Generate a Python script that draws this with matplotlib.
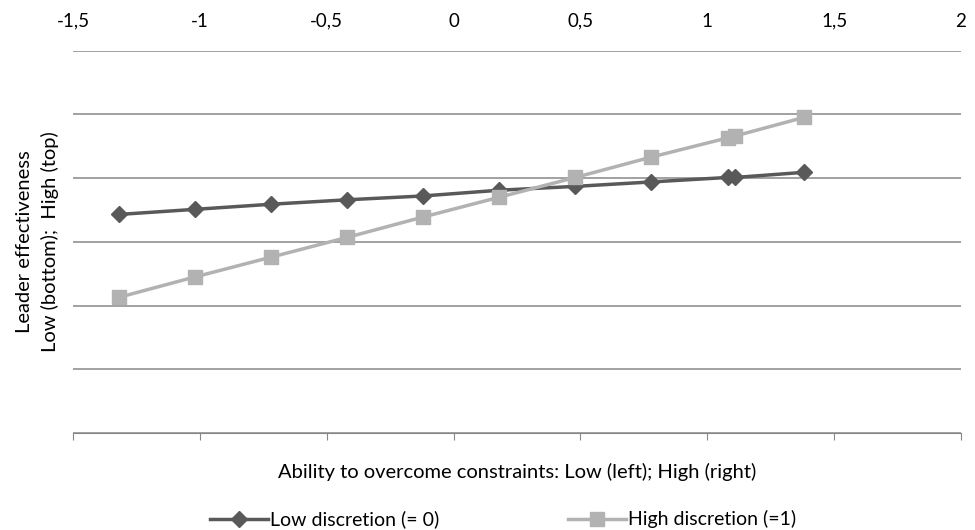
import matplotlib
matplotlib.use('Agg')
import matplotlib.pyplot as plt
from matplotlib.ticker import FuncFormatter

plt.rcParams['font.family'] = ['Lato', 'DejaVu Sans']

# ability to overcome constraints (x) and leader effectiveness (y, arbitrary units)
ability = [-1.32, -1.02, -0.72, -0.42, -0.12, 0.18, 0.48, 0.78, 1.08, 1.11, 1.38]
low_discretion = [3.43, 3.51, 3.59, 3.66, 3.72, 3.81, 3.87, 3.94, 4.01, 4.01, 4.09]
high_discretion = [2.13, 2.45, 2.76, 3.07, 3.39, 3.70, 4.01, 4.33, 4.63, 4.66, 4.95]
x_ticks = [-1.5, -1, -0.5, 0, 0.5, 1, 1.5, 2]
labels = ['Low discretion (= 0)', 'High discretion (=1)']

fig = plt.figure(figsize=(9.75, 5.3), dpi=100)
ax = fig.add_axes([0.0749, 0.1825, 0.9107, 0.7222])

ax.plot(ability, low_discretion, color='#595959', lw=2.5, marker='D',
        markersize=8, label=labels[0], zorder=3)
ax.plot(ability, high_discretion, color='#b2b2b2', lw=2.5, marker='s',
        markersize=9.5, label=labels[1], zorder=3)

ax.set_xlim(-1.5, 2)
ax.set_ylim(0, 6)
ax.set_xticks(x_ticks)
ax.xaxis.set_major_formatter(FuncFormatter(lambda v, p: ('%g' % v).replace('.', ',')))
ax.tick_params(axis='x', bottom=True, top=False, labelbottom=False, labeltop=True,
               length=5, color='#888888', pad=10, labelsize=13.5)
ax.set_yticks(range(0, 7))
ax.tick_params(axis='y', left=False, labelleft=False)
ax.grid(axis='y', color='#888888', lw=1.1)
for s in ['left', 'right', 'top']:
    ax.spines[s].set_visible(False)
ax.spines['bottom'].set_color('#888888')

ax.set_xlabel('Ability to overcome constraints: Low (left); High (right)', fontsize=14.5, labelpad=16)
ax.set_ylabel('Leader effectiveness\nLow (bottom);  High (top)', fontsize=14.5,
              labelpad=10, linespacing=1.55)

fig.legend(loc='lower center', bbox_to_anchor=(0.516, -0.03), ncol=2, frameon=False,
           fontsize=14, handlelength=3.0, columnspacing=6.6, handletextpad=0.1)

fig.savefig('out.png', dpi=100)
